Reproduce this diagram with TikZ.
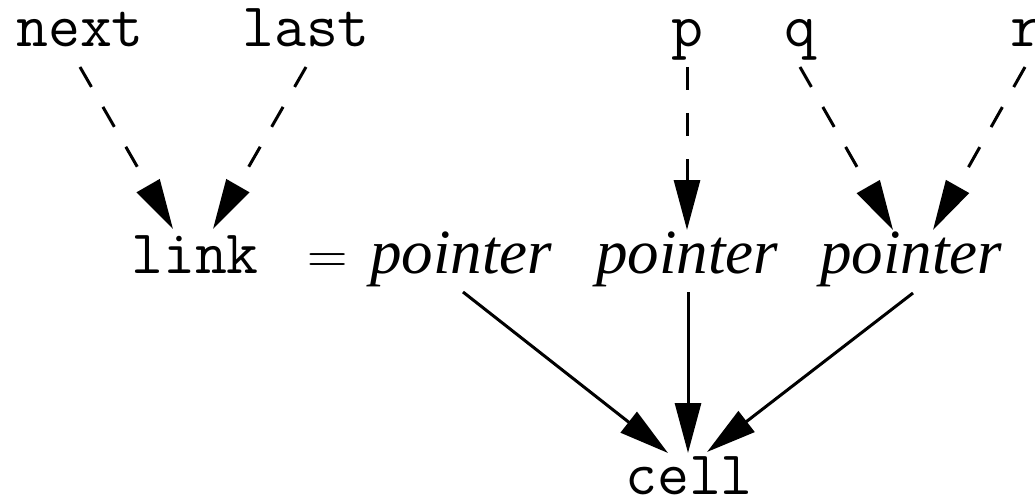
\documentclass[tikz,border=0pt]{standalone}
\usepackage{fontspec}
\setmainfont{Liberation Serif}
\newfontfamily\lmroman{Latin Modern Roman}
\usetikzlibrary{arrows.meta,calc}
\tikzset{
  mono/.style={inner sep=0pt,anchor=base,font=\ttfamily\fontsize{62}{66}\selectfont},
  ptr/.style={inner sep=0pt,anchor=base,font=\itshape\fontsize{63}{66}\selectfont},
  eqsign/.style={inner sep=0pt,anchor=base,font=\lmroman\fontsize{56}{60}\selectfont},
  conn/.style={line width=3pt,-{Triangle[length=50pt,width=26pt]}},
  dconn/.style={conn,dash pattern=on 23pt off 23pt}
}
\begin{document}
\begin{tikzpicture}[x=1pt,y=-1pt]
\useasboundingbox (0,0) rectangle (1035,500);
\node[mono] (next) at (80,47) {next};
\node[mono] (last) at (306,47) {last};
\node[mono] (p) at (687,47) {p};
\node[mono] (q) at (800,47) {q};
\node[mono] (r) at (1026,47) {r};
\node[mono] (link) at (195,273) {link};
\node[eqsign] (eq) at (328,273) {=};
\node[ptr] (ptra) at (461,273) {pointer};
\node[ptr] (ptrb) at (687,273) {pointer};
\node[ptr] (ptrc) at (911,273) {pointer};
\node[mono] (cell) at (689,494) {cell};
\draw[dconn] ($(next.base)+(0,20)$) -- ($(link.base)+(-22,-44)$);
\draw[dconn] ($(last.base)+(0,20)$) -- ($(link.base)+(18,-44)$);
\draw[dconn] ($(p.base)+(0,20)$) -- ($(ptrb.base)+(0,-43)$);
\draw[dconn] ($(q.base)+(0,20)$) -- ($(ptrc.base)+(-18,-43)$);
\draw[dconn] ($(r.base)+(-1,20)$) -- ($(ptrc.base)+(22,-43)$);
\draw[conn] ($(ptra.base)+(2,19)$) -- ($(cell.base)+(-21,-41)$);
\draw[conn] ($(ptrb.base)+(1,19)$) -- ($(cell.base)+(-1,-41)$);
\draw[conn] ($(ptrc.base)+(2,20)$) -- ($(cell.base)+(18,-42)$);
\end{tikzpicture}
\end{document}
